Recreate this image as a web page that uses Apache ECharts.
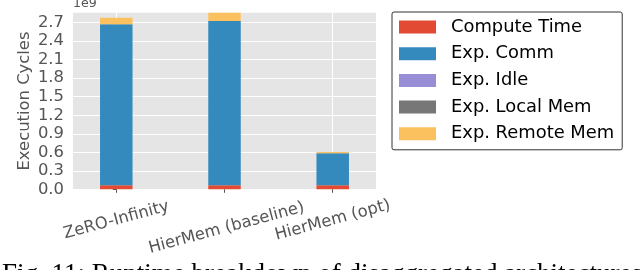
<!DOCTYPE html>
<html><head><meta charset="utf-8">
<script src="https://cdn.jsdelivr.net/npm/echarts@6/dist/echarts.min.js"></script>
<style>html,body{margin:0;padding:0;background:#fff}#c{width:640px;height:270px}</style>
</head><body><div id="c"></div>
<script>
// ---- data ----
const categories = ['ZeRO-Infinity', 'HierMem (baseline)', 'HierMem (opt)'];
const computeTime = [0.065e9, 0.065e9, 0.065e9];
const expComm = [2.609e9, 2.663e9, 0.518e9];
const expIdle = [0, 0, 0];
const expLocalMem = [0, 0, 0];
const expRemoteMem = [0.107e9, 0.135e9, 0.022e9];
const seriesNames = ['Compute Time', 'Exp. Comm', 'Exp. Idle', 'Exp. Local Mem', 'Exp. Remote Mem'];
const yTickValues = [0, 0.3e9, 0.6e9, 0.9e9, 1.2e9, 1.5e9, 1.8e9, 2.1e9, 2.4e9, 2.7e9];
const yMax = 2.862e9;
const yAxisName = 'Execution Cycles';
const offsetText = '1e9';
const caption = 'Fig. 11: Runtime breakdown of disaggregated architectures';

// ---- layout / style ----
const seriesColors = ['#E24A33', '#348ABD', '#988ED5', '#777777', '#FBC15E'];
const FONT = 'DejaVu Sans';
const allSeries = [computeTime, expComm, expIdle, expLocalMem, expRemoteMem];
const xIdx = categories.map((c, i) => i);

const chart = echarts.init(document.getElementById('c'), null, {renderer: 'canvas'});
chart.setOption({
  animation: false,
  backgroundColor: '#ffffff',
  grid: {left: 73, right: 264, top: 12.7, bottom: 80.7, show: true, backgroundColor: '#E5E5E5', borderWidth: 0},
  legend: {
    orient: 'vertical', left: 392, top: 12,
    data: seriesNames,
    icon: 'rect', itemWidth: 37, itemHeight: 13, itemGap: 8.7,
    padding: [6, 8, 7, 7],
    backgroundColor: '#ffffff', borderColor: '#333333', borderWidth: 1, borderRadius: 2,
    textStyle: {fontFamily: FONT, fontSize: 17.9, color: '#000', padding: [0, 0, 0, 10]},
    selectedMode: false
  },
  xAxis: {
    type: 'value', min: -0.4, max: 2.4,
    axisLine: {show: false},
    axisTick: {show: true, customValues: xIdx, length: 3.5, lineStyle: {color: '#555555', width: 1}},
    splitLine: {show: true, lineStyle: {color: '#ffffff', width: 1}},
    axisLabel: {
      customValues: xIdx, rotate: 15, align: 'center', verticalAlign: 'middle', margin: 31,
      fontFamily: FONT, fontSize: 16.4, color: '#555555',
      formatter: function (v) {
        const i = Math.round(v);
        return i === 1 ? '{b|' + categories[i] + '}' : '{a|' + categories[i] + '}';
      },
      rich: {
        a: {fontFamily: FONT, fontSize: 16.4, color: '#555555'},
        b: {fontFamily: FONT, fontSize: 16.4, color: '#555555', padding: [16, 0, 0, 0]}
      }
    }
  },
  yAxis: {
    type: 'value', min: 0, max: yMax,
    name: yAxisName, nameLocation: 'middle', nameGap: 40, nameRotate: 90,
    nameTextStyle: {fontFamily: FONT, fontSize: 16.4, color: '#555555'},
    axisLine: {show: false},
    axisTick: {show: true, customValues: yTickValues, length: 3.5, lineStyle: {color: '#555555', width: 1}},
    splitLine: {show: true, lineStyle: {color: '#ffffff', width: 1}},
    axisLabel: {
      customValues: yTickValues, margin: 9,
      fontFamily: FONT, fontSize: 16.4, color: '#555555',
      formatter: v => (v / 1e9).toFixed(1)
    }
  },
  series: allSeries.map((arr, k) => ({
    type: 'bar', name: seriesNames[k], stack: 'total',
    barWidth: 32.5,
    itemStyle: {color: seriesColors[k]},
    encode: {x: 1, y: 0},
    data: arr.map((v, i) => [v, xIdx[i]])
  })),
  graphic: [
    {type: 'text', x: 73, y: 3.5, style: {text: offsetText, font: '12.6px "DejaVu Sans"', fill: '#555555', verticalAlign: 'middle', align: 'left'}},
    {type: 'text', x: 2, y: 261, style: {text: caption, font: '27px "Liberation Serif"', fill: '#000000', verticalAlign: 'top', align: 'left'}}
  ]
});
</script>
</body></html>
